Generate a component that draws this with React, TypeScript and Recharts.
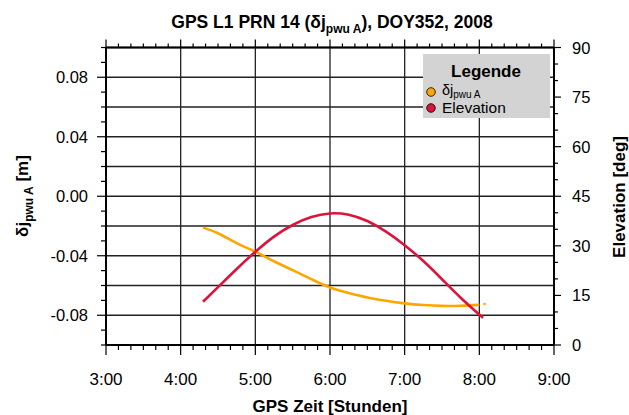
import { ComposedChart, Line, XAxis, YAxis, CartesianGrid } from 'recharts';

// GPS time in hours
const times = [4.3, 4.5, 4.75, 5, 5.25, 5.5, 5.75, 6, 6.25, 6.5, 6.75, 7, 7.25, 7.5, 7.75, 8, 8.03, 8.07];
// delta j pwu A [m]
const deltaJ = [-0.0211, -0.0249, -0.0315, -0.0373, -0.0437, -0.0497, -0.0557, -0.0613, -0.065, -0.068, -0.0703, -0.072, -0.0731, -0.0737, -0.0736, -0.073, null, -0.0724];
// elevation [deg]
const elevation = [13.1, 17.5, 23.0, 28.2, 32.8, 36.3, 38.7, 39.8, 39.4, 37.5, 34.3, 30.2, 25.4, 19.9, 14.3, 9.2, 8.6, null];

const xTicks = [3, 3 + 1 / 6, 3 + 2 / 6, 3.5, 3 + 4 / 6, 3 + 5 / 6, 4, 4 + 1 / 6, 4 + 2 / 6, 4.5, 4 + 4 / 6, 4 + 5 / 6, 5, 5 + 1 / 6, 5 + 2 / 6, 5.5, 5 + 4 / 6, 5 + 5 / 6, 6, 6 + 1 / 6, 6 + 2 / 6, 6.5, 6 + 4 / 6, 6 + 5 / 6, 7, 7 + 1 / 6, 7 + 2 / 6, 7.5, 7 + 4 / 6, 7 + 5 / 6, 8, 8 + 1 / 6, 8 + 2 / 6, 8.5, 8 + 4 / 6, 8 + 5 / 6, 9];
const hourLines = [3, 4, 5, 6, 7, 8, 9];
const leftTicks = [-0.1, -0.09, -0.08, -0.07, -0.06, -0.05, -0.04, -0.03, -0.02, -0.01, 0, 0.01, 0.02, 0.03, 0.04, 0.05, 0.06, 0.07, 0.08, 0.09, 0.1];
const leftLabels = [-0.08, -0.04, 0, 0.04, 0.08];
const leftGrid = [-0.1, -0.08, -0.06, -0.04, -0.02, 0, 0.02, 0.04, 0.06, 0.08, 0.1];
const rightTicks = [0, 5, 10, 15, 20, 25, 30, 35, 40, 45, 50, 55, 60, 65, 70, 75, 80, 85, 90];
const rightLabels = [0, 15, 30, 45, 60, 75, 90];

const data = times.map((t, i) => ({ t, dj: deltaJ[i], el: elevation[i] }));

const FONT = '"Liberation Sans", Arial, Helvetica, sans-serif';
const ORANGE = '#FFA500';
const RED = '#DC143C';

const near = (a: number, b: number) => Math.abs(a - b) < 1e-6;

const BottomTick = (props: any) => {
  const { x, y, payload } = props;
  const v = payload.value;
  const major = near(v, Math.round(v));
  return (
    <g>
      <line x1={x} x2={x} y1={y} y2={y + (major ? 10 : 5)} stroke="#000" strokeWidth={1.2} />
      {major && (
        <text x={x} y={y + 40} textAnchor="middle" fontSize={17} fontFamily={FONT} fill="#000">
          {`${Math.round(v)}:00`}
        </text>
      )}
    </g>
  );
};

const TopTick = (props: any) => {
  const { x, y, payload } = props;
  const v = payload.value;
  const major = near(v, Math.round(v));
  return <line x1={x} x2={x} y1={y} y2={y - (major ? 8 : 4)} stroke="#000" strokeWidth={1.2} />;
};

const LeftTick = (props: any) => {
  const { x, y, payload } = props;
  const v = payload.value;
  const labelled = leftLabels.some(l => near(l, v));
  return (
    <g>
      <line x1={x} x2={x - (labelled ? 9 : 5)} y1={y} y2={y} stroke="#000" strokeWidth={1.2} />
      {labelled && (
        <text x={x - 18} y={y + 6} textAnchor="end" fontSize={16.5} fontFamily={FONT} fill="#000">
          {v.toFixed(2)}
        </text>
      )}
    </g>
  );
};

const RightTick = (props: any) => {
  const { x, y, payload } = props;
  const v = payload.value;
  const labelled = rightLabels.includes(v);
  return (
    <g>
      <line x1={x} x2={x + (labelled ? 7 : 4)} y1={y} y2={y} stroke="#000" strokeWidth={1.2} />
      {labelled && (
        <text x={x + 18} y={y + 6} textAnchor="start" fontSize={16.5} fontFamily={FONT} fill="#000">
          {v}
        </text>
      )}
    </g>
  );
};

const IsolatedDot = (props: any) => {
  const { cx, cy, index } = props;
  const prev = index > 0 ? deltaJ[index - 1] : null;
  const next = index < deltaJ.length - 1 ? deltaJ[index + 1] : null;
  if (deltaJ[index] == null || prev != null || next != null || cy == null) return <g key={index} />;
  return <circle key={index} cx={cx} cy={cy} r={1.3} fill={ORANGE} />;
};

export default function App() {
  return (
    <div style={{ position: 'absolute', left: 0, top: 0, width: 629, height: 415, background: '#fff', fontFamily: FONT }}>
      <ComposedChart
        width={629}
        height={415}
        data={data}
        margin={{ top: 46.5, right: 0, bottom: 0, left: 0 }}
      >
        <CartesianGrid
          xAxisId="bottom"
          yAxisId="left"
          horizontalValues={leftGrid}
          verticalValues={hourLines}
          stroke="#222"
          strokeWidth={1.3}
          fill="none"
        />
        <XAxis
          xAxisId="bottom"
          dataKey="t"
          type="number"
          domain={[3, 9]}
          ticks={xTicks}
          interval={0}
          height={70}
          tickSize={0}
          tickMargin={0}
          tickLine={false}
          tick={<BottomTick />}
          axisLine={{ stroke: '#000', strokeWidth: 2 }}
          allowDataOverflow
        />
        <XAxis
          xAxisId="top"
          orientation="top"
          dataKey="t"
          type="number"
          domain={[3, 9]}
          ticks={xTicks}
          interval={0}
          height={1}
          tickSize={0}
          tickMargin={0}
          tickLine={false}
          tick={<TopTick />}
          axisLine={{ stroke: '#000', strokeWidth: 2 }}
          allowDataOverflow
        />
        <YAxis
          yAxisId="left"
          type="number"
          domain={[-0.1, 0.1]}
          ticks={leftTicks}
          interval={0}
          width={106}
          tickSize={0}
          tickMargin={0}
          tickLine={false}
          tick={<LeftTick />}
          axisLine={{ stroke: '#000', strokeWidth: 2 }}
          allowDataOverflow
        />
        <YAxis
          yAxisId="right"
          orientation="right"
          type="number"
          domain={[0, 90]}
          ticks={rightTicks}
          interval={0}
          width={75}
          tickSize={0}
          tickMargin={0}
          tickLine={false}
          tick={<RightTick />}
          axisLine={{ stroke: '#000', strokeWidth: 2 }}
          allowDataOverflow
        />
        <Line
          xAxisId="bottom"
          yAxisId="left"
          type="natural"
          dataKey="dj"
          stroke={ORANGE}
          strokeWidth={2.6}
          dot={<IsolatedDot />}
          activeDot={false}
          connectNulls={false}
          isAnimationActive={false}
        />
        <Line
          xAxisId="bottom"
          yAxisId="right"
          type="natural"
          dataKey="el"
          stroke={RED}
          strokeWidth={2.6}
          dot={false}
          activeDot={false}
          connectNulls={false}
          isAnimationActive={false}
        />
      </ComposedChart>

      <svg
        width={629}
        height={415}
        style={{ position: 'absolute', left: 0, top: 0, pointerEvents: 'none' }}
        fontFamily={FONT}
      >
        <text x={332} y={28} textAnchor="middle" fontSize={17.5} fontWeight="bold" fill="#000">
          GPS L1 PRN 14 (δj
          <tspan fontSize={12} dy={5}>pwu A</tspan>
          <tspan dy={-5}>), DOY352, 2008</tspan>
        </text>
        <text x={330} y={412} textAnchor="middle" fontSize={17} fontWeight="bold" fill="#000">
          GPS Zeit [Stunden]
        </text>
        <text
          transform="translate(28,196) rotate(-90)"
          textAnchor="middle"
          fontSize={17}
          fontWeight="bold"
          fill="#000"
        >
          δj
          <tspan fontSize={12} dy={5}>pwu A</tspan>
          <tspan dy={-5}> [m]</tspan>
        </text>
        <text
          transform="translate(625,197) rotate(-90)"
          textAnchor="middle"
          fontSize={17}
          fontWeight="bold"
          fill="#000"
        >
          Elevation [deg]
        </text>
      </svg>

      <div
        style={{
          position: 'absolute',
          left: 423,
          top: 54,
          width: 127,
          height: 64,
          background: '#d3d3d3',
        }}
      >
        <svg width={127} height={64} fontFamily={FONT}>
          <text x={63} y={23} textAnchor="middle" fontSize={17} fontWeight="bold" fill="#000">
            Legende
          </text>
          <circle cx={8} cy={38} r={4.3} fill={ORANGE} stroke="#000" strokeWidth={0.8} />
          <text x={19} y={41} fontSize={14.5} fill="#000">
            δj
            <tspan fontSize={10} dy={3}>pwu A</tspan>
          </text>
          <circle cx={8} cy={54} r={4.3} fill={RED} stroke="#000" strokeWidth={0.8} />
          <text x={19} y={59} fontSize={15.5} fill="#000">
            Elevation
          </text>
        </svg>
      </div>
    </div>
  );
}
